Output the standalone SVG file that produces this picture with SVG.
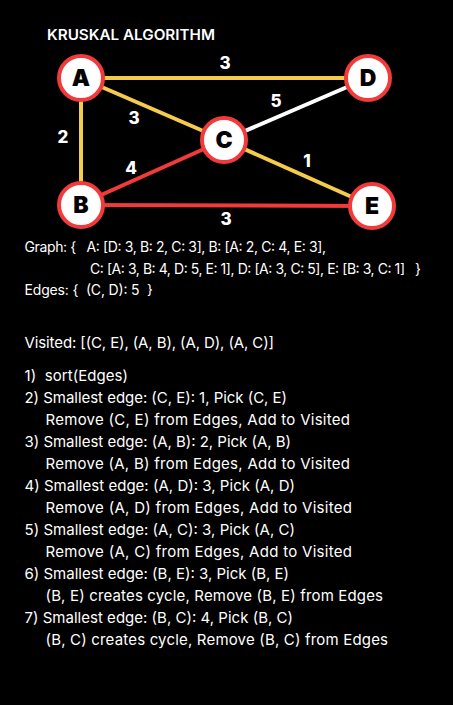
<svg xmlns="http://www.w3.org/2000/svg" width="453" height="705" viewBox="0 0 453 705">
<style>
.bg{fill:#000}
.title{font-family:Inter,"Open Sans",sans-serif;font-weight:600;font-size:14px;fill:#fff}
.node circle{fill:#fff;stroke:#f23a3a;stroke-width:4}
.node text{font-family:Inter,"DejaVu Sans",sans-serif;font-weight:900;font-size:23px;fill:#000;text-anchor:middle}
.e{stroke-width:4;fill:none}
.y{stroke:#f5cb4c}
.w{stroke:#fff}
.r{stroke:#f23a3a}
.wt{font-family:Inter,"DejaVu Sans",sans-serif;font-weight:800;font-size:17px;fill:#fff;text-anchor:middle}
.t{font-family:Inter,"Open Sans",sans-serif;font-size:15px;fill:#fff;white-space:pre}
.s{font-size:14px}
</style>
<rect class="bg" width="453" height="705"/>
<text class="title" x="47" y="40" textLength="168" lengthAdjust="spacingAndGlyphs">KRUSKAL ALGORITHM</text>
<g id="connectors">
<line class="e y" x1="81" y1="78" x2="368" y2="78"/>
<line class="e y" x1="81" y1="78" x2="81" y2="204"/>
<line class="e y" x1="81" y1="78" x2="224" y2="140"/>
<line class="e w" x1="224" y1="140" x2="368" y2="78"/>
<line class="e y" x1="224" y1="140" x2="372" y2="206"/>
<line class="e r" x1="224" y1="140" x2="81" y2="204"/>
<line class="e r" x1="81" y1="205" x2="372" y2="206"/>
<text class="wt" x="225" y="69">3</text>
<text class="wt" x="276" y="107">5</text>
<text class="wt" x="134" y="124">3</text>
<text class="wt" x="63" y="143">2</text>
<text class="wt" x="131" y="174">4</text>
<text class="wt" x="307" y="167">1</text>
<text class="wt" x="226" y="225">3</text>
</g>
<g id="A" class="node"><circle cx="81" cy="78" r="22"/><text x="81" y="86">A</text></g>
<g id="D" class="node"><circle cx="368" cy="78" r="22"/><text x="368" y="86">D</text></g>
<g id="C" class="node"><circle cx="224" cy="140" r="22"/><text x="224" y="148">C</text></g>
<g id="B" class="node"><circle cx="81" cy="205" r="22"/><text x="81" y="213">B</text></g>
<g id="E" class="node"><circle cx="372" cy="206" r="22"/><text x="372" y="214">E</text></g>
<g id="text">
<text class="t s" x="24.5" y="252" textLength="301.5">Graph: {   A: [D: 3, B: 2, C: 3], B: [A: 2, C: 4, E: 3],</text>
<text class="t s" x="90" y="274" textLength="331">C: [A: 3, B: 4, D: 5, E: 1], D: [A: 3, C: 5], E: [B: 3, C: 1]   }</text>
<text class="t s" x="24.5" y="295" textLength="128.5">Edges: {  (C, D): 5  }</text>
<text class="t" x="24.5" y="348" textLength="249.5">Visited: [(C, E), (A, B), (A, D), (A, C)]</text>
<text class="t" x="24.5" y="381" textLength="103.5">1)  sort(Edges)</text>
<text class="t" x="24.5" y="403" textLength="262.5">2) Smallest edge: (C, E): 1, Pick (C, E)</text>
<text class="t" x="45.5" y="425" textLength="304.5">Remove (C, E) from Edges, Add to Visited</text>
<text class="t" x="24.5" y="447" textLength="266.5">3) Smallest edge: (A, B): 2, Pick (A, B)</text>
<text class="t" x="45.5" y="469" textLength="304.5">Remove (A, B) from Edges, Add to Visited</text>
<text class="t" x="24.5" y="491" textLength="270.5">4) Smallest edge: (A, D): 3, Pick (A, D)</text>
<text class="t" x="45.5" y="513" textLength="306.5">Remove (A, D) from Edges, Add to Visited</text>
<text class="t" x="24.5" y="535" textLength="270.5">5) Smallest edge: (A, C): 3, Pick (A, C)</text>
<text class="t" x="45.5" y="557" textLength="306.5">Remove (A, C) from Edges, Add to Visited</text>
<text class="t" x="24.5" y="579" textLength="264.5">6) Smallest edge: (B, E): 3, Pick (B, E)</text>
<text class="t" x="45.5" y="601" textLength="337.5">(B, E) creates cycle, Remove (B, E) from Edges</text>
<text class="t" x="24.5" y="623" textLength="268.5">7) Smallest edge: (B, C): 4, Pick (B, C)</text>
<text class="t" x="45.5" y="645" textLength="342.5">(B, C) creates cycle, Remove (B, C) from Edges</text>
</g>
</svg>
